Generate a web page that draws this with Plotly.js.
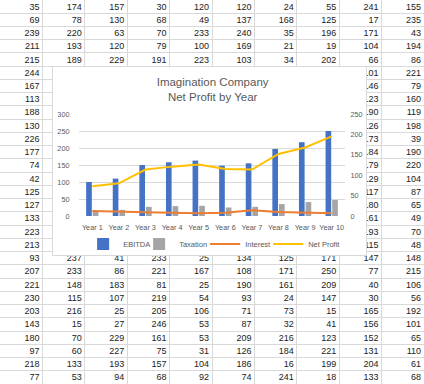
<!DOCTYPE html>
<html><head><meta charset="utf-8">
<script src="https://cdn.plot.ly/plotly-3.0.1.min.js"></script>
<style>
html,body{margin:0;padding:0;background:#fff;overflow:hidden;width:424px;height:384px}
#sheet{position:absolute;left:0;top:0;width:424px;height:384px}
#chart{position:absolute;left:53px;top:67px;width:313px;height:188px;outline:1px solid #d9d9d9;background:#fff}
</style></head><body>
<div id="sheet"></div><div id="chart"></div>
<script>
// ---- chart data ----
const years = ['Year 1','Year 2','Year 3','Year 4','Year 5','Year 6','Year 7','Year 8','Year 9','Year 10'];
const ebitda = [100,110,150,158,163,148,155,197,217,250];
const taxation = [15,18,27,29,30,25,27,35,41,47];
const interest = [12,10,9,8,7,8,14,10,8,7];
const netProfit = [73,80,114,121,126,115,114,152,168,195];

// ---- spreadsheet cells behind the chart, one array per column (null = hidden under chart) ----
const N = null;
const colA = [35,69,239,211,215,244,167,113,188,130,226,177,74,42,125,127,133,223,213,93,207,221,230,203,143,180,97,218,77];
const colB = [174,78,220,193,189,N,N,N,N,N,N,N,N,N,N,N,N,N,N,237,233,148,115,216,15,70,60,133,53];
const colC = [157,130,63,120,229,N,N,N,N,N,N,N,N,N,N,N,N,N,N,41,86,183,107,25,27,229,227,193,94];
const colD = [30,68,70,79,191,N,N,N,N,N,N,N,N,N,N,N,N,N,N,233,221,81,219,205,246,161,75,157,68];
const colE = [120,49,233,100,223,N,N,N,N,N,N,N,N,N,N,N,N,N,N,25,167,25,54,106,53,53,31,104,92];
const colF = [120,137,240,169,103,N,N,N,N,N,N,N,N,N,N,N,N,N,N,134,108,190,93,71,87,209,126,186,74];
const colG = [24,168,35,21,34,N,N,N,N,N,N,N,N,N,N,N,N,N,N,125,171,161,24,73,32,216,184,16,241];
const colH = [55,125,196,19,202,N,N,N,N,N,N,N,N,N,N,N,N,N,N,171,250,209,147,15,41,123,221,199,18];
const colI = [241,17,171,104,66,101,146,123,190,126,173,184,179,129,117,180,161,193,115,147,77,40,30,165,156,152,131,204,133];
const colJ = [155,235,43,194,86,221,79,160,119,198,39,190,220,104,87,65,49,70,48,148,215,106,56,192,101,65,110,61,68];
const columns = [colA,colB,colC,colD,colE,colF,colG,colH,colI,colJ];
const nRows = colA.length;

// ---- spreadsheet ----
const cellFont = {family:'Liberation Sans, Arial, sans-serif', size:9, color:'#222'};
const sheetTraces = columns.map((col, ci) => {
  const xs = [], ys = [], ts = [];
  col.forEach((v, ri) => { if (v !== null) { xs.push(ci + 0.93); ys.push(ri + 0.55); ts.push(String(v)); } });
  return {type:'scatter', mode:'text', x:xs, y:ys, text:ts, textposition:'middle left',
          textfont:cellFont, cliponaxis:false, hoverinfo:'skip'};
});
Plotly.newPlot('sheet', sheetTraces, {
  width:424, height:384, margin:{l:0,r:0,t:0,b:0}, showlegend:false,
  paper_bgcolor:'#fff', plot_bgcolor:'#fff',
  xaxis:{range:[0,10], tick0:0, dtick:1, showgrid:true, gridcolor:'#d9d9d9', gridwidth:1,
         zeroline:false, showticklabels:false, ticks:'', fixedrange:true},
  yaxis:{range:[nRows,0], tick0:0, dtick:1, showgrid:true, gridcolor:'#d9d9d9', gridwidth:1,
         zeroline:false, showticklabels:false, ticks:'', fixedrange:true}
}, {staticPlot:true, displayModeBar:false});

// ---- chart ----
const txt = '#595959';
const fam = 'Liberation Sans, Arial, sans-serif';
const chartTraces = [
  {type:'bar', name:'EBITDA', x:years, y:ebitda, marker:{color:'#4472C4'}, legendwidth:11},
  {type:'bar', name:'Taxation', x:years, y:taxation, marker:{color:'#A5A5A5'}, legendwidth:21},
  {type:'scatter', mode:'lines', name:'Interest', x:years, y:interest, yaxis:'y2',
   line:{color:'#ED7D31', width:2}, legendwidth:18},
  {type:'scatter', mode:'lines', name:'Net Profit', x:years, y:netProfit, yaxis:'y2',
   line:{color:'#FFC000', width:2}, legendwidth:32}
];
Plotly.newPlot('chart', chartTraces, {
  width:313, height:188, margin:{l:26, r:21, t:47, b:39, autoexpand:false},
  paper_bgcolor:'#fff', plot_bgcolor:'#fff',
  font:{family:fam, color:txt},
  title:{text:'Imagination Company<br>Net Profit by Year', font:{family:fam, size:11.5, color:txt},
         x:0.51, xanchor:'center', y:0.9, yanchor:'middle', yref:'container'},
  barmode:'group', bargap:0.5, bargroupgap:0.15,
  xaxis:{type:'category', tickfont:{size:7.3, color:txt}, ticks:'outside', ticklen:4,
         tickcolor:'rgba(0,0,0,0)', showline:false, showgrid:false, zeroline:false},
  yaxis:{range:[0,300], dtick:50, tickfont:{size:7.3, color:txt}, gridcolor:'#d9d9d9', gridwidth:1,
         zeroline:false, showline:false, ticks:'outside', ticklen:7, tickcolor:'rgba(0,0,0,0)'},
  yaxis2:{range:[0,250], dtick:50, overlaying:'y', side:'right', showgrid:false, zeroline:false,
          tickfont:{size:7.3, color:txt}, ticks:'outside', ticklen:3, tickcolor:'rgba(0,0,0,0)'},
  showlegend:true,
  legend:{orientation:'h', x:0.508, xanchor:'center', y:-0.275, yanchor:'middle',
          font:{size:7.5, color:txt, family:fam}, bgcolor:'rgba(0,0,0,0)', itemwidth:30, traceorder:'normal'}
}, {staticPlot:true, displayModeBar:false});
</script>
</body></html>
